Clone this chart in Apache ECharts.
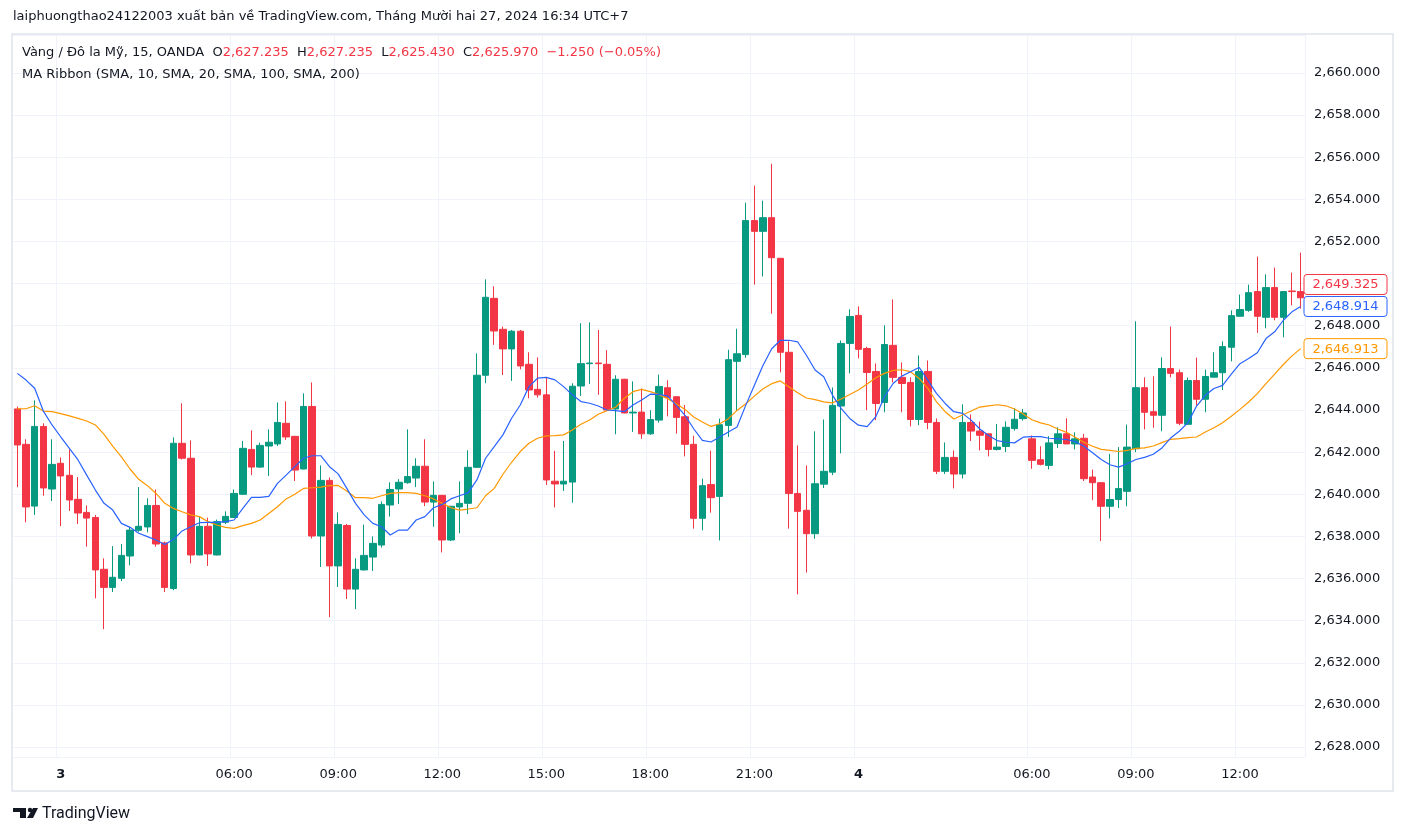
<!DOCTYPE html>
<html>
<head>
<meta charset="utf-8">
<script src="https://cdn.jsdelivr.net/npm/echarts@6/dist/echarts.min.js"></script>
<style>
html,body{margin:0;padding:0;background:#fff;}
#chart{width:1406px;height:836px;}
</style>
</head>
<body>
<div id="chart"></div>
<script>
// ---- DATA ----
const sessions = [
  { start: [2024, 12, 2, 22, 45], count: 25 },
  { start: [2024, 12, 3, 6, 0], count: 92 },
  { start: [2024, 12, 4, 6, 0], count: 32 }
];
const opens = [
  2644.05, 2642.37, 2639.44, 2643.22, 2640.25, 2641.47, 2640.90, 2639.76, 2639.14, 2638.90,
  2636.44, 2635.58, 2636.01, 2637.07, 2638.29, 2638.45, 2639.47, 2637.69, 2635.53, 2642.42,
  2641.71, 2637.12, 2638.48, 2637.12, 2638.67, 2638.90, 2640.00, 2642.13, 2641.29, 2642.29,
  2642.39, 2643.37, 2642.75, 2641.20, 2644.17, 2638.02, 2640.66, 2636.60, 2638.52, 2635.50,
  2636.41, 2637.02, 2637.59, 2639.49, 2640.25, 2640.55, 2640.77, 2641.33, 2639.63, 2639.95,
  2637.83, 2639.40, 2639.57, 2641.28, 2645.65, 2649.30, 2647.83, 2646.90, 2647.74, 2646.17,
  2644.98, 2644.72, 2640.62, 2640.49, 2640.58, 2645.14, 2646.20, 2646.23, 2646.17, 2644.05,
  2645.46, 2643.86, 2643.90, 2642.87, 2643.52, 2645.06, 2644.63, 2643.68, 2642.37, 2638.86,
  2640.46, 2639.90, 2643.27, 2646.31, 2646.63, 2652.99, 2652.48, 2653.13, 2651.20, 2646.74,
  2640.04, 2639.24, 2638.13, 2640.48, 2641.05, 2644.19, 2647.16, 2648.49, 2646.92, 2645.83,
  2644.36, 2647.07, 2645.55, 2645.31, 2643.55, 2645.83, 2643.41, 2641.09, 2641.75, 2640.96,
  2643.41, 2643.00, 2642.87, 2642.13, 2642.27, 2643.12, 2643.59, 2642.63, 2641.64, 2641.37,
  2642.41, 2642.87, 2642.39, 2642.66, 2640.82, 2640.55, 2639.43, 2639.75, 2640.14, 2642.16,
  2645.06, 2643.92, 2643.75, 2645.97, 2645.77, 2643.32, 2645.40, 2644.51, 2645.56, 2645.77,
  2646.98, 2648.45, 2648.73, 2649.62, 2648.40, 2649.81, 2648.40, 2649.65, 2649.62
];
const closes = [
  2642.34, 2639.40, 2643.22, 2640.30, 2641.42, 2640.87, 2639.73, 2639.11, 2638.87, 2636.41,
  2635.58, 2636.06, 2637.10, 2638.30, 2638.48, 2639.47, 2637.64, 2635.58, 2642.42, 2641.71,
  2637.12, 2638.48, 2637.17, 2638.70, 2638.95, 2640.04, 2642.18, 2641.29, 2642.32, 2642.47,
  2643.41, 2642.72, 2641.15, 2644.17, 2638.02, 2640.66, 2636.60, 2638.57, 2635.50, 2636.44,
  2637.10, 2637.67, 2639.52, 2640.23, 2640.57, 2640.84, 2641.33, 2639.63, 2639.95, 2637.83,
  2639.43, 2639.57, 2641.28, 2645.65, 2649.35, 2647.75, 2646.90, 2647.74, 2646.09, 2644.95,
  2644.72, 2640.68, 2640.49, 2640.62, 2645.13, 2646.20, 2646.23, 2646.20, 2644.00, 2645.46,
  2643.86, 2643.90, 2642.87, 2643.55, 2645.12, 2644.59, 2643.65, 2642.37, 2638.86, 2640.41,
  2639.84, 2643.30, 2646.39, 2646.67, 2652.99, 2652.48, 2653.13, 2651.23, 2646.74, 2640.04,
  2639.19, 2638.13, 2640.50, 2641.09, 2644.22, 2647.16, 2648.44, 2646.88, 2645.78, 2644.31,
  2647.11, 2645.55, 2645.26, 2643.55, 2645.83, 2643.41, 2641.09, 2641.75, 2640.96, 2643.41,
  2643.00, 2642.80, 2642.13, 2642.24, 2643.18, 2643.56, 2643.86, 2641.61, 2641.42, 2642.44,
  2642.87, 2642.39, 2642.63, 2640.74, 2640.55, 2639.43, 2639.75, 2640.27, 2642.24, 2645.06,
  2643.89, 2643.75, 2645.97, 2645.74, 2643.37, 2645.40, 2644.51, 2645.59, 2645.77, 2647.01,
  2648.48, 2648.77, 2649.57, 2648.45, 2649.81, 2648.40, 2649.62, 2649.62, 2649.325
];
const lows = [
  2640.34, 2638.67, 2639.02, 2639.93, 2639.68, 2638.49, 2639.21, 2638.59, 2637.51, 2635.06,
  2633.60, 2635.36, 2635.88, 2636.63, 2638.22, 2638.19, 2637.51, 2635.36, 2635.45, 2641.65,
  2636.72, 2637.10, 2636.60, 2637.10, 2638.59, 2638.88, 2639.98, 2640.91, 2641.26, 2640.87,
  2642.29, 2642.58, 2640.63, 2641.18, 2637.90, 2636.55, 2634.17, 2635.60, 2635.03, 2634.55,
  2636.38, 2636.36, 2637.47, 2638.94, 2639.54, 2640.50, 2640.34, 2639.44, 2638.46, 2637.24,
  2637.78, 2638.15, 2639.06, 2641.26, 2645.27, 2647.09, 2645.66, 2645.38, 2645.93, 2644.56,
  2644.59, 2640.44, 2639.37, 2640.16, 2639.60, 2644.67, 2645.24, 2644.72, 2643.98, 2642.85,
  2643.84, 2642.96, 2642.63, 2642.82, 2643.40, 2643.70, 2642.88, 2641.80, 2638.37, 2638.29,
  2639.13, 2637.81, 2642.72, 2643.98, 2646.48, 2649.95, 2650.34, 2648.57, 2645.79, 2638.37,
  2635.25, 2636.28, 2637.89, 2640.30, 2640.91, 2641.94, 2645.74, 2646.45, 2643.99, 2643.52,
  2643.89, 2645.31, 2643.89, 2643.22, 2643.28, 2643.09, 2640.96, 2640.96, 2640.28, 2640.75,
  2642.53, 2642.08, 2641.80, 2642.08, 2642.00, 2643.02, 2643.50, 2641.21, 2641.37, 2641.18,
  2642.20, 2642.39, 2642.13, 2640.63, 2639.72, 2637.78, 2638.85, 2639.35, 2639.43, 2642.00,
  2643.08, 2643.16, 2642.99, 2645.55, 2643.28, 2643.30, 2644.22, 2643.89, 2645.54, 2644.95,
  2646.31, 2648.43, 2648.66, 2647.66, 2647.88, 2648.26, 2647.45, 2648.97, 2648.81
];
const highs = [
  2644.16, 2642.61, 2644.46, 2643.37, 2642.61, 2641.75, 2642.13, 2640.82, 2639.47, 2639.02,
  2636.96, 2637.54, 2637.64, 2638.45, 2640.34, 2639.81, 2640.23, 2637.75, 2642.70, 2644.32,
  2642.56, 2638.95, 2638.89, 2638.80, 2639.19, 2640.23, 2642.53, 2643.03, 2642.45, 2643.08,
  2644.36, 2644.41, 2642.77, 2644.79, 2645.31, 2641.37, 2640.80, 2639.14, 2638.59, 2636.96,
  2638.56, 2638.00, 2639.66, 2640.57, 2640.72, 2643.08, 2641.71, 2642.61, 2640.61, 2639.97,
  2639.45, 2640.61, 2642.09, 2646.69, 2650.20, 2649.87, 2647.96, 2647.80, 2647.80, 2646.74,
  2646.50, 2645.54, 2642.06, 2642.53, 2645.27, 2648.12, 2648.16, 2647.80, 2646.84, 2645.65,
  2645.48, 2645.36, 2645.02, 2643.99, 2645.68, 2645.41, 2644.65, 2644.24, 2642.78, 2640.74,
  2642.07, 2643.59, 2646.86, 2647.86, 2653.84, 2654.65, 2653.94, 2655.69, 2651.22, 2647.26,
  2642.32, 2641.37, 2642.99, 2643.55, 2645.07, 2647.30, 2648.78, 2648.92, 2647.00, 2646.21,
  2648.02, 2649.25, 2646.26, 2645.55, 2646.59, 2646.35, 2643.60, 2642.46, 2642.08, 2644.27,
  2643.79, 2643.45, 2642.89, 2643.34, 2643.46, 2644.09, 2644.05, 2642.79, 2642.28, 2642.76,
  2643.18, 2643.61, 2642.94, 2642.87, 2641.17, 2640.58, 2641.92, 2642.24, 2643.31, 2648.21,
  2645.55, 2645.60, 2646.50, 2647.96, 2645.92, 2645.54, 2646.49, 2645.92, 2646.74, 2647.26,
  2648.73, 2649.48, 2649.95, 2651.28, 2650.44, 2650.76, 2649.64, 2650.52, 2651.47
];
const sma10 = [
  2645.74, 2645.42, 2645.03, 2643.95, 2643.29, 2642.73, 2642.18, 2641.63, 2640.91, 2640.20,
  2639.57, 2639.25, 2638.62, 2638.43, 2638.15, 2637.99, 2637.83, 2637.62, 2637.85, 2638.26,
  2638.46, 2638.65, 2638.67, 2638.67, 2638.70, 2638.78, 2639.33, 2639.85, 2639.85, 2639.90,
  2640.52, 2640.91, 2641.31, 2641.71, 2641.83, 2641.83, 2641.31, 2640.97, 2640.28, 2639.57,
  2639.02, 2638.62, 2638.46, 2638.07, 2638.30, 2638.30, 2638.78, 2638.94, 2639.36, 2639.52,
  2639.78, 2639.93, 2640.08, 2640.68, 2641.71, 2642.26, 2642.82, 2643.61, 2644.24, 2645.11,
  2645.51, 2645.55, 2645.43, 2645.11, 2644.72, 2644.40, 2644.32, 2644.19, 2644.00, 2643.97,
  2643.92, 2644.24, 2644.48, 2644.75, 2644.74, 2644.66, 2644.22, 2643.75, 2643.11, 2642.56,
  2642.48, 2642.72, 2642.96, 2643.19, 2644.22, 2645.17, 2646.12, 2646.91, 2647.31, 2647.31,
  2647.23, 2646.60, 2645.90, 2645.58, 2644.71, 2644.08, 2643.60, 2643.28, 2643.21, 2643.68,
  2644.63, 2645.26, 2645.61, 2645.82, 2646.02, 2645.42, 2644.79, 2644.31, 2643.92, 2643.84,
  2643.52, 2643.10, 2642.79, 2642.55, 2642.47, 2642.44, 2642.71, 2642.74, 2642.74, 2642.66,
  2642.63, 2642.60, 2642.50, 2642.28, 2641.97, 2641.65, 2641.40, 2641.29, 2641.45, 2641.65,
  2641.75, 2641.90, 2642.20, 2642.67, 2642.99, 2643.40, 2644.19, 2644.70, 2645.02, 2645.17,
  2645.70, 2646.20, 2646.44, 2646.72, 2647.39, 2647.71, 2648.26, 2648.66, 2648.914
];
const sma20 = [
  2644.05, 2644.06, 2644.20, 2643.95, 2643.92, 2643.83, 2643.72, 2643.60, 2643.48, 2643.29,
  2642.84, 2642.29, 2641.78, 2641.20, 2640.71, 2640.41, 2640.04, 2639.57, 2639.33, 2639.17,
  2639.02, 2638.94, 2638.70, 2638.54, 2638.43, 2638.38, 2638.51, 2638.62, 2638.78, 2639.09,
  2639.41, 2639.78, 2640.00, 2640.28, 2640.31, 2640.34, 2640.41, 2640.42, 2640.16, 2639.84,
  2639.84, 2639.81, 2639.93, 2640.04, 2640.08, 2640.08, 2640.04, 2639.93, 2639.78, 2639.57,
  2639.36, 2639.25, 2639.30, 2639.36, 2639.93, 2640.28, 2640.95, 2641.52, 2642.03, 2642.42,
  2642.66, 2642.77, 2642.78, 2642.82, 2643.05, 2643.32, 2643.53, 2643.80, 2643.97, 2644.13,
  2644.56, 2644.87, 2644.98, 2644.87, 2644.73, 2644.54, 2644.30, 2644.03, 2643.67, 2643.43,
  2643.22, 2643.35, 2643.59, 2643.98, 2644.30, 2644.66, 2645.01, 2645.25, 2645.38, 2645.09,
  2644.82, 2644.57, 2644.49, 2644.39, 2644.34, 2644.52, 2644.74, 2644.95, 2645.23, 2645.53,
  2645.74, 2645.88, 2645.91, 2645.82, 2645.50, 2645.03, 2644.39, 2643.92, 2643.57, 2643.76,
  2643.95, 2644.14, 2644.20, 2644.25, 2644.20, 2644.05, 2643.81, 2643.54, 2643.39, 2643.29,
  2643.10, 2642.94, 2642.71, 2642.47, 2642.28, 2642.13, 2642.08, 2642.03, 2642.08, 2642.18,
  2642.20, 2642.29, 2642.45, 2642.61, 2642.64, 2642.69, 2642.72, 2642.96, 2643.16, 2643.40,
  2643.70, 2644.03, 2644.38, 2644.78, 2645.25, 2645.70, 2646.16, 2646.57, 2646.913
];
const yMin = 2627.53, yMax = 2661.80;
const labelHours = [0, 6, 9, 12, 15, 18, 21];

// ---- categories (15-minute bars, market break 05:00-06:00) ----
const pad = n => (n < 10 ? '0' : '') + n;
const categories = [];
sessions.forEach(s => {
  const t0 = Date.UTC(s.start[0], s.start[1] - 1, s.start[2], s.start[3], s.start[4]);
  for (let k = 0; k < s.count; k++) {
    const d = new Date(t0 + k * 15 * 60000);
    categories.push(d.getUTCDate() + ' ' + pad(d.getUTCHours()) + ':' + pad(d.getUTCMinutes()));
  }
});
const isLabelCat = v => {
  const hm = v.split(' ')[1].split(':');
  return hm[1] === '00' && labelHours.indexOf(+hm[0]) >= 0;
};
const labelIdx = categories.map(isLabelCat);

const candleData = opens.map((o, i) => [o, closes[i], lows[i], highs[i]]);

const FONT = '"DejaVu Sans", Verdana, sans-serif';
const LOGOFONT = 'Roboto, "Noto Sans", sans-serif';
const UP = '#089981', DOWN = '#f23645', BLUE = '#2962ff', ORANGE = '#ff9800', TXT = '#131722';
const fmt = v => v.toLocaleString('en-US', { minimumFractionDigits: 3, maximumFractionDigits: 3 });

const chart = echarts.init(document.getElementById('chart'), null, { renderer: 'canvas' });
chart.setOption({
  animation: false,
  backgroundColor: '#ffffff',
  grid: { left: 13, right: 101, top: 35, bottom: 79, containLabel: false },
  xAxis: {
    type: 'category',
    data: categories,
    boundaryGap: true,
    axisLine: { show: false },
    axisTick: { show: false },
    axisLabel: {
      interval: (idx) => labelIdx[idx],
      margin: 11,
      fontFamily: FONT, fontSize: 13, color: TXT,
      formatter: (v) => {
        const parts = v.split(' ');
        if (parts[1] === '00:00') return '{b|' + parts[0] + '}';
        return parts[1];
      },
      rich: { b: { fontWeight: 'bold', fontFamily: FONT, fontSize: 13, color: TXT } }
    },
    splitLine: { show: true, interval: (idx) => labelIdx[idx], lineStyle: { color: '#f0f3fa', width: 1 } }
  },
  yAxis: {
    type: 'value',
    position: 'right',
    scale: true,
    min: yMin, max: yMax,
    splitNumber: 17, minInterval: 2, maxInterval: 2,
    axisLine: { show: false },
    axisTick: { show: false },
    axisLabel: {
      margin: 9, fontFamily: FONT, fontSize: 13, color: TXT,
      showMinLabel: false, showMaxLabel: false,
      formatter: v => (Math.abs(v / 2 - Math.round(v / 2)) < 1e-6 ? fmt(v) : '')
    },
    splitLine: { show: true, lineStyle: { color: '#f0f3fa', width: 1 } }
  },
  series: [
    {
      type: 'candlestick',
      data: candleData,
      barWidth: 7,
      z: 2,
      itemStyle: { color: UP, color0: DOWN, borderColor: UP, borderColor0: DOWN, borderWidth: 1 }
    },
    {
      type: 'line', data: sma20, symbol: 'none', z: 3,
      lineStyle: { color: ORANGE, width: 1.2 }
    },
    {
      type: 'line', data: sma10, symbol: 'none', z: 4,
      lineStyle: { color: BLUE, width: 1.2 }
    }
  ]
});

// ---- overlay texts and last-value labels ----
const lastClose = closes[closes.length - 1];
const lastBlue = sma10[sma10.length - 1];
const lastOrange = sma20[sma20.length - 1];
const yBlue = chart.convertToPixel({ yAxisIndex: 0 }, lastBlue);
const yOrange = chart.convertToPixel({ yAxisIndex: 0 }, lastOrange);
let yRed = chart.convertToPixel({ yAxisIndex: 0 }, lastClose);
yRed = Math.min(yRed, yBlue - 22);

const priceTag = (y, val, color) => ([
  { type: 'rect', zlevel: 5, z: 100, shape: { x: 1304, y: y - 10, width: 83, height: 20, r: 3 },
    style: { fill: '#ffffff', stroke: color, lineWidth: 1 } },
  { type: 'text', zlevel: 5, z: 101, x: 1345.5, y: y + 0.5,
    style: { text: fmt(val), fill: color, font: '13px ' + FONT, align: 'center', verticalAlign: 'middle' } }
]);

chart.setOption({
  graphic: [
    { type: 'rect', z: -1, silent: true,
      shape: { x: 12, y: 34, width: 1381, height: 757 },
      style: { fill: 'none', stroke: '#e0e3eb', lineWidth: 1.5 } },
    { type: 'text', x: 13, y: 17,
      style: { text: 'laiphuongthao24122003 xuất bản về TradingView.com, Tháng Mười hai 27, 2024 16:34 UTC+7',
        fill: TXT, font: '13px ' + FONT, verticalAlign: 'middle' } },
    { type: 'text', x: 22, y: 53,
      style: {
        text: 'Vàng / Đô la Mỹ, 15, OANDA  O{r|2,627.235}  H{r|2,627.235}  L{r|2,625.430}  C{r|2,625.970}  {r|−1.250 (−0.05%)}',
        fill: TXT, font: '13px ' + FONT, verticalAlign: 'middle',
        rich: { r: { fill: DOWN, font: '13px ' + FONT } }
      } },
    { type: 'text', x: 22, y: 75,
      style: { text: 'MA Ribbon (SMA, 10, SMA, 20, SMA, 100, SMA, 200)', fill: TXT, font: '13px ' + FONT, verticalAlign: 'middle' } },
    ...priceTag(yRed, lastClose, DOWN),
    ...priceTag(yBlue, lastBlue, BLUE),
    ...priceTag(yOrange, lastOrange, ORANGE),
    // TradingView logo
    { type: 'group', x: 13, y: 808, children: [
      { type: 'rect', shape: { x: 0, y: 0, width: 13, height: 4 }, style: { fill: TXT } },
      { type: 'rect', shape: { x: 7, y: 0, width: 6, height: 10 }, style: { fill: TXT } },
      { type: 'circle', shape: { cx: 17, cy: 2, r: 2.2 }, style: { fill: TXT } },
      { type: 'polygon', shape: { points: [[20, 0], [25, 0], [20, 10], [14, 10]] }, style: { fill: TXT } }
    ] },
    { type: 'text', x: 42, y: 814,
      style: { text: 'TradingView', fill: TXT, font: '16px ' + LOGOFONT, verticalAlign: 'middle' } }
  ]
});
</script>
</body>
</html>
